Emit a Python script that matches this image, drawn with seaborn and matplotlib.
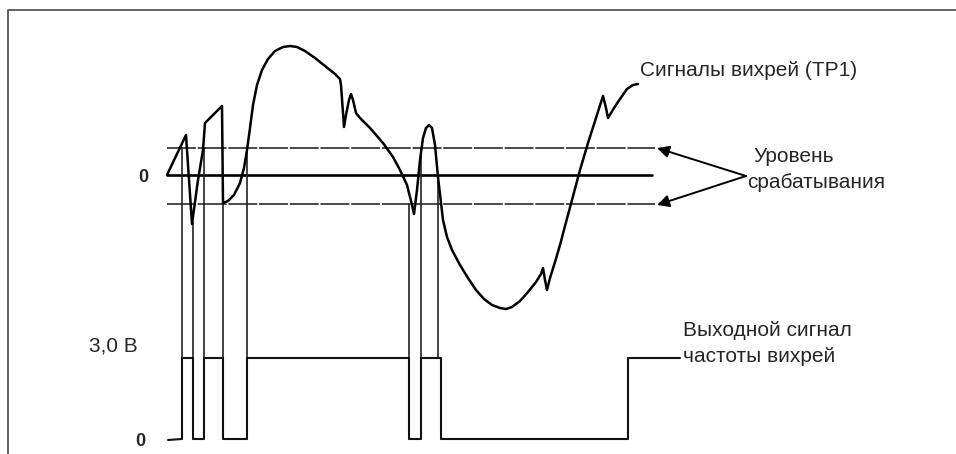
import matplotlib
matplotlib.use("Agg")
import matplotlib.pyplot as plt
import seaborn as sns
import pandas as pd

sns.set_theme(style="white")
plt.rcParams['font.family'] = ['Liberation Sans', 'DejaVu Sans']

# Vortex signal trace (diagram coordinates, y grows downward)
signal_x = [167, 186, 192, 198, 203, 205, 222, 223, 228, 234, 240, 244, 247, 250, 253, 257, 262, 268,
            275, 283, 290, 297, 305, 315, 325, 335, 340, 341, 344, 346, 349, 351, 353, 356, 360,
            370, 383, 393, 400, 407, 412, 414, 417, 420, 423, 426, 429, 432, 435, 438, 443,
            447, 452, 460, 468, 476, 484, 492, 500, 506, 512, 520, 528, 536, 541, 543, 545, 547,
            550, 555, 560, 565, 572, 580, 588, 596, 603, 606, 608, 614, 620, 627, 633, 638]
signal_y = [175, 135, 224, 180, 150, 123, 106, 203, 201, 195, 183, 168, 150, 128, 105, 85, 70, 59,
            51, 47, 46, 47, 51, 58, 66, 74, 79, 85, 127, 115, 100, 94, 100, 113, 118,
            128, 143, 157, 170, 185, 205, 214, 190, 160, 138, 128, 125, 128, 145, 177, 220,
            237, 250, 265, 278, 290, 299, 305, 308, 309, 307, 301, 292, 282, 274, 268, 280, 290,
            278, 262, 245, 226, 200, 170, 143, 118, 96, 108, 118, 108, 99, 89, 85, 84]

# Output pulse (frequency signal)
pulse_x = [168, 182, 182, 193, 193, 204, 204, 223, 223, 247, 247, 409, 409, 421, 421, 441, 441, 628, 628, 680]
pulse_y = [440, 439, 358, 358, 439, 439, 358, 358, 439, 439, 358, 358, 439, 439, 358, 358, 439, 439, 358, 358]

# Vertical projection lines: x, top y
proj_x = [182, 193, 204, 223, 247, 409, 421, 438]
proj_top = [148, 222, 148, 203, 148, 204, 148, 177]

# Levels
zero_level = 175
trig_upper = 148
trig_lower = 204
level_x0, level_x1 = 167, 655

labels_signal = "Сигналы вихрей (ТР1)"
labels_trigger = ["Уровень", "срабатывания"]
labels_output = ["Выходной сигнал", "частоты вихрей"]

fig = plt.figure(figsize=(9.56, 4.54), dpi=100)
ax = fig.add_axes([0, 0, 1, 1])

# frame (left and top)
ax.plot([8, 8, 956], [454, 10, 10], color="#555555", lw=1.3)

# trigger levels
ax.plot([level_x0, level_x1], [trig_upper, trig_upper], color="#3a3a3a", lw=1.3, dashes=(16, 1))
ax.plot([level_x0, level_x1], [trig_lower, trig_lower], color="#3a3a3a", lw=1.3, dashes=(16, 1))
ax.plot([level_x0, 652], [zero_level, zero_level], color="black", lw=1.9)

# projection lines
for px, pt in zip(proj_x, proj_top):
    ax.plot([px, px], [pt, 358], color="#222222", lw=1.2)

# signal curve
df_sig = pd.DataFrame({"x": signal_x, "y": signal_y})
sns.lineplot(data=df_sig, x="x", y="y", sort=False, estimator=None, ax=ax,
             color="black", lw=1.8)

# pulse
df_p = pd.DataFrame({"x": pulse_x, "y": pulse_y})
sns.lineplot(data=df_p, x="x", y="y", sort=False, estimator=None, ax=ax,
             color="#111111", lw=1.5)
ax.set_xlabel("")
ax.set_ylabel("")
ax.set_xlim(0, 956)
ax.set_ylim(454, 0)
ax.axis("off")

# arrows
for ty in (trig_upper, trig_lower + 1):
    ax.annotate("", xy=(657, ty), xytext=(746, 176),
                arrowprops=dict(arrowstyle="-|>", color="black", lw=1.4,
                                mutation_scale=18, shrinkA=0, shrinkB=0))

# texts
ax.text(143, 177, "0", fontsize=13, fontweight="bold", ha="center", va="center")
ax.text(140, 442, "0", fontsize=13, fontweight="bold", ha="center", va="center")
ax.text(89, 346, "3,0 В", fontsize=15, ha="left", va="center")
ax.text(640, 70, labels_signal, fontsize=15, ha="left", va="center")
ax.text(753, 157, labels_trigger[0], fontsize=15, ha="left", va="center")
ax.text(747, 182, labels_trigger[1], fontsize=15, ha="left", va="center")
ax.text(683, 331, labels_output[0], fontsize=15, ha="left", va="center")
ax.text(683, 356, labels_output[1], fontsize=15, ha="left", va="center")

fig.savefig("out.png", dpi=100)
